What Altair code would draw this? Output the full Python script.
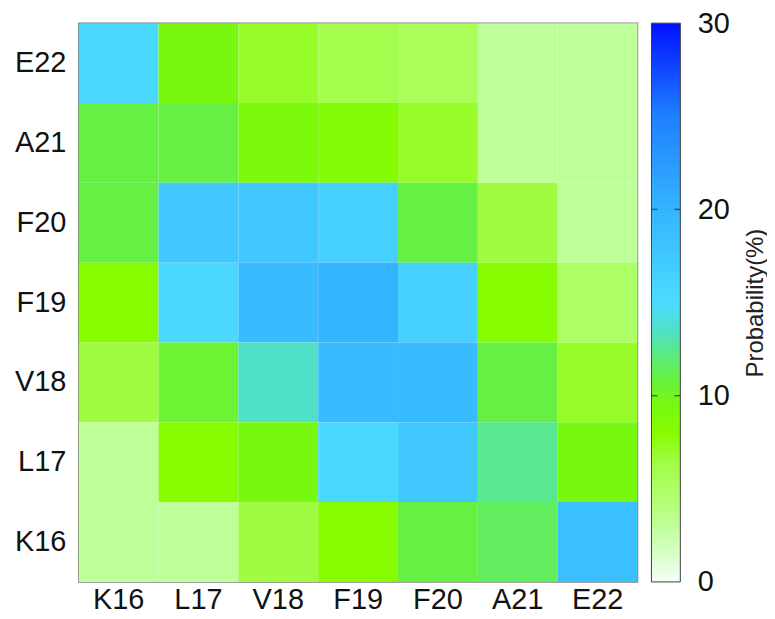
import altair as alt
import pandas as pd

residues = ["K16", "L17", "V18", "F19", "F20", "A21", "E22"]
rows_top_to_bottom = ["E22", "A21", "F20", "F19", "V18", "L17", "K16"]

# probability (%) per row (y residue), columns in order K16..E22
row_E22 = [15.5, 9.5, 7.0, 6.0, 5.5, 3.0, 3.0]
row_A21 = [11.0, 11.0, 9.0, 8.5, 7.0, 3.0, 3.0]
row_F20 = [11.0, 17.5, 17.5, 16.5, 11.0, 6.5, 3.0]
row_F19 = [8.0, 15.5, 19.0, 20.0, 16.5, 8.0, 5.0]
row_V18 = [6.5, 10.5, 13.5, 19.0, 19.0, 11.0, 7.0]
row_L17 = [3.0, 8.0, 9.5, 15.5, 17.5, 12.5, 9.5]
row_K16 = [3.0, 3.0, 6.5, 8.0, 11.0, 11.5, 18.5]

rows = {
    "E22": row_E22, "A21": row_A21, "F20": row_F20, "F19": row_F19,
    "V18": row_V18, "L17": row_L17, "K16": row_K16,
}

legend_title = "Probability(%)"
cbar_min, cbar_max = 0, 30
cbar_ticks = [0, 10, 20, 30]
cbar_inner_ticks = [10, 20]

records = []
for yres, vals in rows.items():
    for xres, v in zip(residues, vals):
        records.append({"x": xres, "y": yres, "p": v})
df = pd.DataFrame(records)

stop_values = [0, 3, 5, 6.5, 8, 9.5, 11, 12.5, 13.5, 15, 20, 25, 30]
stop_colors = ["#f2fff8", "#bfff99", "#adff66", "#a0fc40", "#88fc00", "#78f810",
               "#66f044", "#58e890", "#50e0c8", "#4cdcff", "#34b4ff", "#2080ff", "#0010ff"]

FONT = "Liberation Sans"

heat = alt.Chart(df).mark_rect().encode(
    x=alt.X("x:O", sort=residues, title=None,
            scale=alt.Scale(paddingInner=0, paddingOuter=0),
            axis=alt.Axis(labelAngle=0, ticks=False, domain=False, labelFontSize=29,
                          labelPadding=4, labelColor="#111", labelFont=FONT)),
    y=alt.Y("y:O", sort=rows_top_to_bottom, title=None,
            scale=alt.Scale(paddingInner=0, paddingOuter=0),
            axis=alt.Axis(ticks=False, domain=False, labelFontSize=29,
                          labelPadding=13, labelColor="#111", labelFont=FONT)),
    color=alt.Color("p:Q", legend=None,
                    scale=alt.Scale(domain=stop_values, range=stop_colors, interpolate="rgb")),
)

# colour bar: one rectangle filled with the same colour stops
cbar_df = pd.DataFrame({"lo": [cbar_min], "hi": [cbar_max]})
grad = alt.Gradient(
    gradient="linear",
    stops=[alt.GradientStop(offset=(v - cbar_min) / (cbar_max - cbar_min), color=c)
           for v, c in zip(stop_values, stop_colors)],
    x1=0, x2=0, y1=1, y2=0,
)
cbar_scale = alt.Scale(domain=[cbar_min, cbar_max], nice=False, zero=False)
cbar = alt.Chart(cbar_df).mark_rect(color=grad, stroke="#404040", strokeWidth=1).encode(
    x=alt.value(575), x2=alt.value(604),
    y=alt.Y("lo:Q", scale=cbar_scale, title=legend_title,
            axis=alt.Axis(orient="right", offset=43, values=cbar_ticks, ticks=False,
                          domain=False, grid=False, labelFlush=False,
                          labelFontSize=29, labelPadding=17, labelColor="#111", labelFont=FONT,
                          titleAngle=270, titleFontSize=24, titleFontWeight="normal",
                          titleFont=FONT, titleColor="#222", titlePadding=38)),
    y2="hi:Q",
)

tick_df = pd.DataFrame({"v": cbar_inner_ticks})
tick_left = alt.Chart(tick_df).mark_tick(size=6, thickness=1.5, color="#333").encode(
    y=alt.Y("v:Q", scale=cbar_scale, axis=None), x=alt.value(578))
tick_right = alt.Chart(tick_df).mark_tick(size=6, thickness=1.5, color="#333").encode(
    y=alt.Y("v:Q", scale=cbar_scale, axis=None), x=alt.value(601))

chart = alt.layer(heat, cbar, tick_left, tick_right).resolve_scale(
    y="independent"
).properties(
    width=561, height=561,
    autosize=alt.AutoSizeParams(type="none"),
    padding={"left": 71, "top": 14, "right": 130, "bottom": 36},
).configure_view(stroke="#808080", strokeWidth=1.5)

chart.save("out.html", embed_options={"renderer": "svg", "actions": False})
